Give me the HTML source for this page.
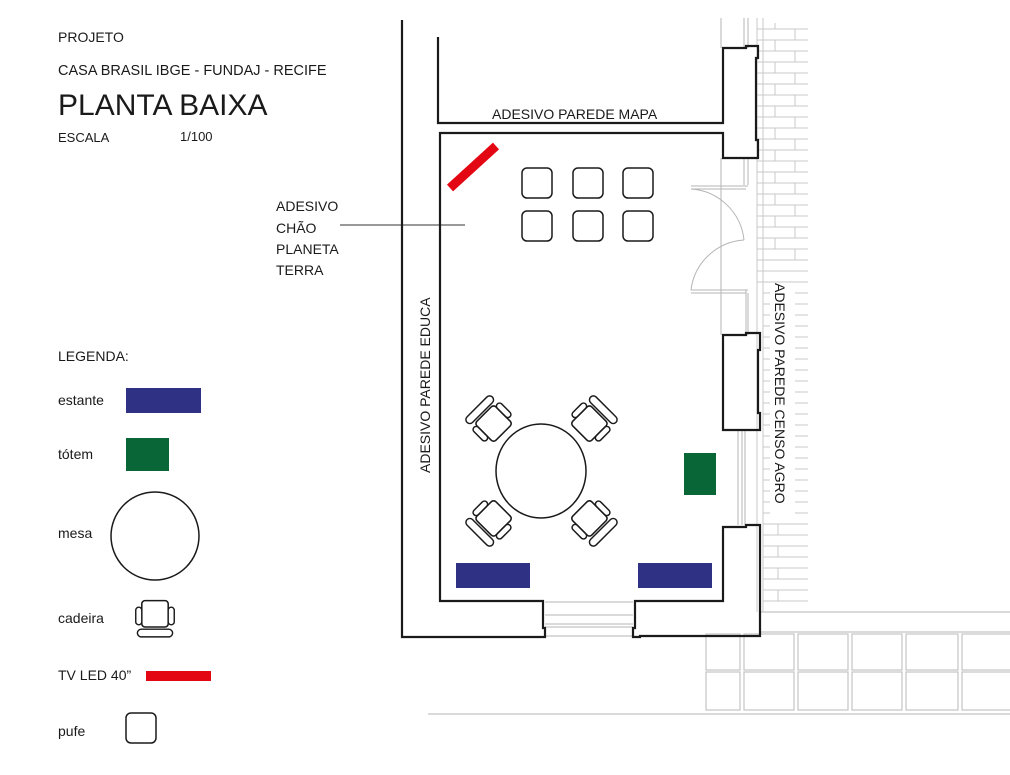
<!DOCTYPE html>
<html><head><meta charset="utf-8"><style>
html,body{margin:0;padding:0;background:#fff;}
svg{display:block;}
text{font-family:"Liberation Sans",sans-serif;fill:#1a1a1a;}
</style></head><body>
<svg width="1010" height="775" viewBox="0 0 1010 775" xmlns="http://www.w3.org/2000/svg">
<defs>
<g id="chair">
  <rect x="-12" y="-14" width="24" height="24" rx="3" fill="#fff" stroke="#1a1a1a" stroke-width="1.4"/>
  <rect x="-17.5" y="-8" width="5.5" height="16" rx="2.7" fill="#fff" stroke="#1a1a1a" stroke-width="1.3"/>
  <rect x="12" y="-8" width="5.5" height="16" rx="2.7" fill="#fff" stroke="#1a1a1a" stroke-width="1.3"/>
  <rect x="-16" y="12" width="32" height="7" rx="3.5" fill="#fff" stroke="#1a1a1a" stroke-width="1.3"/>
</g>
</defs>

<text x="58" y="42" font-size="14">PROJETO</text>
<text x="58" y="75" font-size="14.5">CASA BRASIL IBGE - FUNDAJ - RECIFE</text>
<text x="58" y="115" font-size="30">PLANTA BAIXA</text>
<text x="58" y="142" font-size="13">ESCALA</text>
<text x="180" y="141" font-size="13">1/100</text>

<text x="276" y="211" font-size="14">ADESIVO</text>
<text x="276" y="233" font-size="14">CHÃO</text>
<text x="276" y="254" font-size="14">PLANETA</text>
<text x="276" y="275" font-size="14">TERRA</text>
<line x1="340" y1="225" x2="465" y2="225" stroke="#333" stroke-width="1"/>

<text x="58" y="361" font-size="14">LEGENDA:</text>
<text x="58" y="405" font-size="14">estante</text>
<rect x="126" y="388" width="75" height="25" fill="#2e3184"/>
<text x="58" y="459" font-size="14">tótem</text>
<rect x="126" y="438" width="43" height="33" fill="#086637"/>
<text x="58" y="538" font-size="14">mesa</text>
<circle cx="155" cy="536" r="44" fill="none" stroke="#1a1a1a" stroke-width="1.5"/>
<text x="58" y="623" font-size="14">cadeira</text>
<use href="#chair" transform="translate(155,616) scale(1.1)"/>
<text x="58" y="680" font-size="14">TV LED 40”</text>
<rect x="146" y="671" width="65" height="10" fill="#e30613"/>
<text x="58" y="736" font-size="14">pufe</text>
<rect x="126" y="713" width="30" height="30" rx="5" fill="none" stroke="#1a1a1a" stroke-width="1.5"/>

<g stroke="#c8c8c8" stroke-width="1" fill="none">
  <line x1="757" y1="18" x2="757" y2="612"/>
  <line x1="763" y1="18" x2="763" y2="612"/>
</g>
<g stroke="#c8c8c8" stroke-width="1">
  <line x1="757" y1="29" x2="808" y2="29"/><line x1="757" y1="40" x2="808" y2="40"/>
  <line x1="757" y1="51" x2="808" y2="51"/><line x1="757" y1="62" x2="808" y2="62"/>
  <line x1="757" y1="73" x2="808" y2="73"/><line x1="757" y1="84" x2="808" y2="84"/>
  <line x1="757" y1="95" x2="808" y2="95"/><line x1="757" y1="106" x2="808" y2="106"/>
  <line x1="757" y1="117" x2="808" y2="117"/><line x1="757" y1="128" x2="808" y2="128"/>
  <line x1="757" y1="139" x2="808" y2="139"/><line x1="757" y1="150" x2="808" y2="150"/>
  <line x1="757" y1="161" x2="808" y2="161"/><line x1="757" y1="172" x2="808" y2="172"/>
  <line x1="757" y1="183" x2="808" y2="183"/><line x1="757" y1="194" x2="808" y2="194"/>
  <line x1="757" y1="205" x2="808" y2="205"/><line x1="757" y1="216" x2="808" y2="216"/>
  <line x1="757" y1="227" x2="808" y2="227"/><line x1="757" y1="238" x2="808" y2="238"/>
  <line x1="757" y1="249" x2="808" y2="249"/><line x1="757" y1="260" x2="808" y2="260"/>
  <line x1="757" y1="271" x2="808" y2="271"/><line x1="757" y1="282" x2="808" y2="282"/>
</g>
<g stroke="#c8c8c8" stroke-width="1">
  <line x1="775" y1="23" x2="775" y2="29"/><line x1="795" y1="29" x2="795" y2="40"/>
  <line x1="775" y1="40" x2="775" y2="51"/><line x1="795" y1="51" x2="795" y2="62"/>
  <line x1="775" y1="62" x2="775" y2="73"/><line x1="795" y1="73" x2="795" y2="84"/>
  <line x1="775" y1="84" x2="775" y2="95"/><line x1="795" y1="95" x2="795" y2="106"/>
  <line x1="775" y1="106" x2="775" y2="117"/><line x1="795" y1="117" x2="795" y2="128"/>
  <line x1="775" y1="128" x2="775" y2="139"/><line x1="795" y1="139" x2="795" y2="150"/>
  <line x1="775" y1="150" x2="775" y2="161"/><line x1="795" y1="161" x2="795" y2="172"/>
  <line x1="775" y1="172" x2="775" y2="183"/><line x1="795" y1="183" x2="795" y2="194"/>
  <line x1="775" y1="194" x2="775" y2="205"/><line x1="795" y1="205" x2="795" y2="216"/>
  <line x1="775" y1="216" x2="775" y2="227"/><line x1="795" y1="227" x2="795" y2="238"/>
  <line x1="775" y1="238" x2="775" y2="249"/><line x1="795" y1="249" x2="795" y2="260"/>
</g>
<g stroke="#c8c8c8" stroke-width="1">
  <line x1="763" y1="293" x2="770" y2="293"/><line x1="795" y1="293" x2="808" y2="293"/>
  <line x1="763" y1="304" x2="770" y2="304"/><line x1="795" y1="304" x2="808" y2="304"/>
  <line x1="763" y1="315" x2="770" y2="315"/><line x1="795" y1="315" x2="808" y2="315"/>
  <line x1="763" y1="326" x2="770" y2="326"/><line x1="795" y1="326" x2="808" y2="326"/>
  <line x1="763" y1="337" x2="770" y2="337"/><line x1="795" y1="337" x2="808" y2="337"/>
  <line x1="763" y1="348" x2="770" y2="348"/><line x1="795" y1="348" x2="808" y2="348"/>
  <line x1="763" y1="359" x2="770" y2="359"/><line x1="795" y1="359" x2="808" y2="359"/>
  <line x1="763" y1="370" x2="770" y2="370"/><line x1="795" y1="370" x2="808" y2="370"/>
  <line x1="763" y1="381" x2="770" y2="381"/><line x1="795" y1="381" x2="808" y2="381"/>
  <line x1="763" y1="392" x2="770" y2="392"/><line x1="795" y1="392" x2="808" y2="392"/>
  <line x1="763" y1="403" x2="770" y2="403"/><line x1="795" y1="403" x2="808" y2="403"/>
  <line x1="763" y1="414" x2="770" y2="414"/><line x1="795" y1="414" x2="808" y2="414"/>
  <line x1="763" y1="425" x2="770" y2="425"/><line x1="795" y1="425" x2="808" y2="425"/>
  <line x1="763" y1="436" x2="770" y2="436"/><line x1="795" y1="436" x2="808" y2="436"/>
  <line x1="763" y1="447" x2="770" y2="447"/><line x1="795" y1="447" x2="808" y2="447"/>
  <line x1="763" y1="458" x2="770" y2="458"/><line x1="795" y1="458" x2="808" y2="458"/>
  <line x1="763" y1="469" x2="770" y2="469"/><line x1="795" y1="469" x2="808" y2="469"/>
  <line x1="763" y1="480" x2="770" y2="480"/><line x1="795" y1="480" x2="808" y2="480"/>
  <line x1="763" y1="491" x2="770" y2="491"/><line x1="795" y1="491" x2="808" y2="491"/>
  <line x1="763" y1="502" x2="770" y2="502"/><line x1="795" y1="502" x2="808" y2="502"/>
  <line x1="763" y1="513" x2="770" y2="513"/><line x1="795" y1="513" x2="808" y2="513"/>
  <line x1="763" y1="524" x2="808" y2="524"/><line x1="763" y1="535" x2="808" y2="535"/>
  <line x1="763" y1="546" x2="808" y2="546"/><line x1="763" y1="557" x2="808" y2="557"/>
  <line x1="763" y1="568" x2="808" y2="568"/><line x1="763" y1="579" x2="808" y2="579"/>
  <line x1="763" y1="590" x2="808" y2="590"/><line x1="763" y1="601" x2="808" y2="601"/>
  <line x1="778" y1="524" x2="778" y2="535"/><line x1="778" y1="546" x2="778" y2="557"/>
  <line x1="778" y1="568" x2="778" y2="579"/><line x1="778" y1="590" x2="778" y2="601"/>
</g>
<text x="0" y="0" font-size="14" transform="translate(775,283) rotate(90)">ADESIVO PAREDE CENSO AGRO</text>

<g stroke="#c4c4c4" stroke-width="1.2" fill="none">
  <line x1="760" y1="612" x2="1010" y2="612"/>
  <line x1="760" y1="632" x2="1010" y2="632"/>
  <line x1="428" y1="714" x2="1010" y2="714"/>
  <rect x="706" y="634" width="34" height="36"/><rect x="706" y="672" width="34" height="38"/>
  <rect x="744" y="634" width="50" height="36"/><rect x="744" y="672" width="50" height="38"/>
  <rect x="798" y="634" width="50" height="36"/><rect x="798" y="672" width="50" height="38"/>
  <rect x="852" y="634" width="50" height="36"/><rect x="852" y="672" width="50" height="38"/>
  <rect x="906" y="634" width="52" height="36"/><rect x="906" y="672" width="52" height="38"/>
  <rect x="962" y="634" width="50" height="36"/><rect x="962" y="672" width="50" height="38"/>
</g>

<g stroke="#b5b5b5" stroke-width="1" fill="none">
  <line x1="721" y1="18" x2="721" y2="48"/>
  <line x1="744" y1="18" x2="744" y2="48"/>
  <line x1="748" y1="18" x2="748" y2="48"/>
  <line x1="721" y1="158" x2="721" y2="335"/>
  <line x1="744" y1="158" x2="744" y2="185"/>
  <line x1="748" y1="158" x2="748" y2="185"/>
  <line x1="691" y1="186" x2="748" y2="186"/>
  <line x1="691" y1="189" x2="746" y2="189"/>
  <path d="M691,189 A57,57 0 0 1 744,240"/>
  <path d="M691,290 A57,57 0 0 1 744,240"/>
  <line x1="691" y1="290" x2="748" y2="290"/>
  <line x1="691" y1="293" x2="746" y2="293"/>
  <line x1="746" y1="290" x2="746" y2="335"/>
  <line x1="748" y1="293" x2="748" y2="335"/>
  <line x1="738" y1="430" x2="738" y2="525"/>
  <line x1="742" y1="430" x2="742" y2="525"/>
  <line x1="745" y1="430" x2="745" y2="525"/>
  <line x1="545" y1="602" x2="633" y2="602"/>
  <line x1="545" y1="615" x2="633" y2="615"/>
  <line x1="545" y1="624" x2="633" y2="624"/>
  <line x1="545" y1="627" x2="633" y2="627"/>
  <line x1="545" y1="636" x2="633" y2="636"/>
</g>

<g stroke="#1a1a1a" stroke-width="2.2" fill="none" stroke-linejoin="miter">
  <path d="M402,20 L402,637 L545,637 L545,628 L543,628 L543,601 L440,601 L440,133 L723,133 L723,158 L758,158 L758,140 L756,140 L756,58 L758,58 L758,46 L746,46 L746,48 L723,48 L723,123 L438,123 L438,37"/>
  <path d="M723,335 L723,430 L760,430 L760,413 L758,413 L758,350 L760,350 L760,333 L746,333 L746,335 Z"/>
  <path d="M633,637 L633,628 L635,628 L635,601 L723,601 L723,527 L746,527 L746,525 L760,525 L760,636 L640,636 L640,637 Z"/>
</g>

<text x="492" y="119" font-size="14">ADESIVO PAREDE MAPA</text>
<text x="0" y="0" font-size="14" transform="translate(430,473) rotate(-90)">ADESIVO PAREDE EDUCA</text>

<line x1="450" y1="188" x2="496" y2="146" stroke="#e30613" stroke-width="9"/>

<g fill="none" stroke="#1a1a1a" stroke-width="1.5">
  <rect x="522" y="168" width="30" height="30" rx="5"/>
  <rect x="573" y="168" width="30" height="30" rx="5"/>
  <rect x="623" y="168" width="30" height="30" rx="5"/>
  <rect x="522" y="211" width="30" height="30" rx="5"/>
  <rect x="573" y="211" width="30" height="30" rx="5"/>
  <rect x="623" y="211" width="30" height="30" rx="5"/>
</g>

<ellipse cx="541" cy="471" rx="45" ry="47" fill="none" stroke="#1a1a1a" stroke-width="1.5"/>
<use href="#chair" transform="translate(492,422) rotate(135) scale(1.12)"/>
<use href="#chair" transform="translate(591,422) rotate(-135) scale(1.12)"/>
<use href="#chair" transform="translate(492,520) rotate(45) scale(1.12)"/>
<use href="#chair" transform="translate(591,520) rotate(-45) scale(1.12)"/>

<rect x="684" y="453" width="32" height="42" fill="#086637"/>
<rect x="456" y="563" width="74" height="25" fill="#2e3184"/>
<rect x="638" y="563" width="74" height="25" fill="#2e3184"/>
</svg>
</body></html>
